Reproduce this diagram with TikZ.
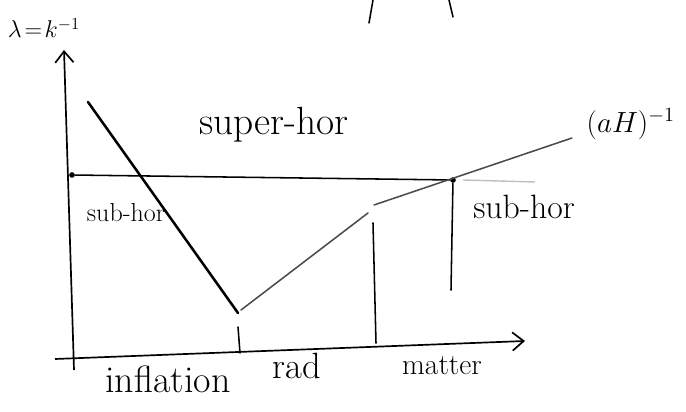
\documentclass[tikz,border=0pt]{standalone}
\usepackage{amsmath}
\usepackage{fontspec}
\usepackage{tikz}
\usetikzlibrary{arrows.meta}

\begin{document}
\begin{tikzpicture}[
  x=0.025cm, y=-0.025cm,
  every node/.style={font=\fontsize{21}{24}\selectfont, inner sep=1pt},
  axis/.style={-{Straight Barb[length=8pt, width=13pt]}, line width=1.2pt},
  pen/.style={line width=1.1pt, line cap=round},
  inflat/.style={line width=1.8pt, line cap=round},
  light/.style={line width=1.1pt, line cap=round, color=black!70},
  faint/.style={line width=1pt, color=black!25},
  dotpt/.style={circle, fill=black, inner sep=0pt, minimum size=4pt}
]
\useasboundingbox (0,0) rectangle (686,412);

% Axes
\coordinate (xs) at (55,359);
\coordinate (xe) at (525,341);
\coordinate (ys) at (74,370);
\coordinate (ye) at (64,50);
\draw[axis] (xs) -- (xe);
\draw[axis] (ys) -- (ye);
\node[font=\fontsize{17.3}{20}\selectfont] (lam) at (44,28) {$\lambda\!=\!k^{-1}$};

% Horizon today
\node[dotpt] (h0) at (72,175) {};
\node[dotpt] (h1) at (453,180) {};
\coordinate (h2) at (463,180);
\coordinate (h3) at (535,182);
\draw[pen] (h0) -- (h1);
\draw[faint] (h2) -- (h3);

% Comoving Hubble radius
\coordinate (a0) at (88,102);
\coordinate (a1) at (238,313);
\coordinate (b0) at (241,310);
\coordinate (b1) at (368,213);
\coordinate (c0) at (374,205);
\coordinate (c1) at (572,138);
\draw[inflat] (a0) -- (a1);
\draw[light] (b0) -- (b1);
\draw[light] (c0) -- (c1);
\node[anchor=west] (aH) at (585,124) {$(aH)^{-1}$};

% Era boundaries
\coordinate (t0) at (238,327);
\coordinate (t1) at (240,353);
\coordinate (m0) at (373,223);
\coordinate (m1) at (376,343);
\coordinate (r1) at (451,290);
\draw[pen] (t0) -- (t1);
\draw[pen] (m0) -- (m1);
\draw[pen] (h1) -- (r1);

% Marks cut at the top edge
\coordinate (s0) at (373,0);
\coordinate (s1) at (369,23);
\coordinate (s2) at (449,0);
\coordinate (s3) at (453,17);
\draw[pen] (s0) -- (s1);
\draw[pen] (s2) -- (s3);

% Regions
\node[font=\fontsize{28}{30}\selectfont] (sup) at (274,125) {super-hor};
\node[font=\fontsize{18.5}{21}\selectfont] (subl) at (126,213) {sub-hor};
\node[font=\fontsize{24}{26}\selectfont] (subr) at (524,207) {sub-hor};

% Eras
\node[font=\fontsize{27}{29}\selectfont] (infl) at (168,379) {inflation};
\node[font=\fontsize{26}{28}\selectfont] (rad) at (297,366) {rad};
\node (mat) at (442,366) {matter};

\end{tikzpicture}
\end{document}
